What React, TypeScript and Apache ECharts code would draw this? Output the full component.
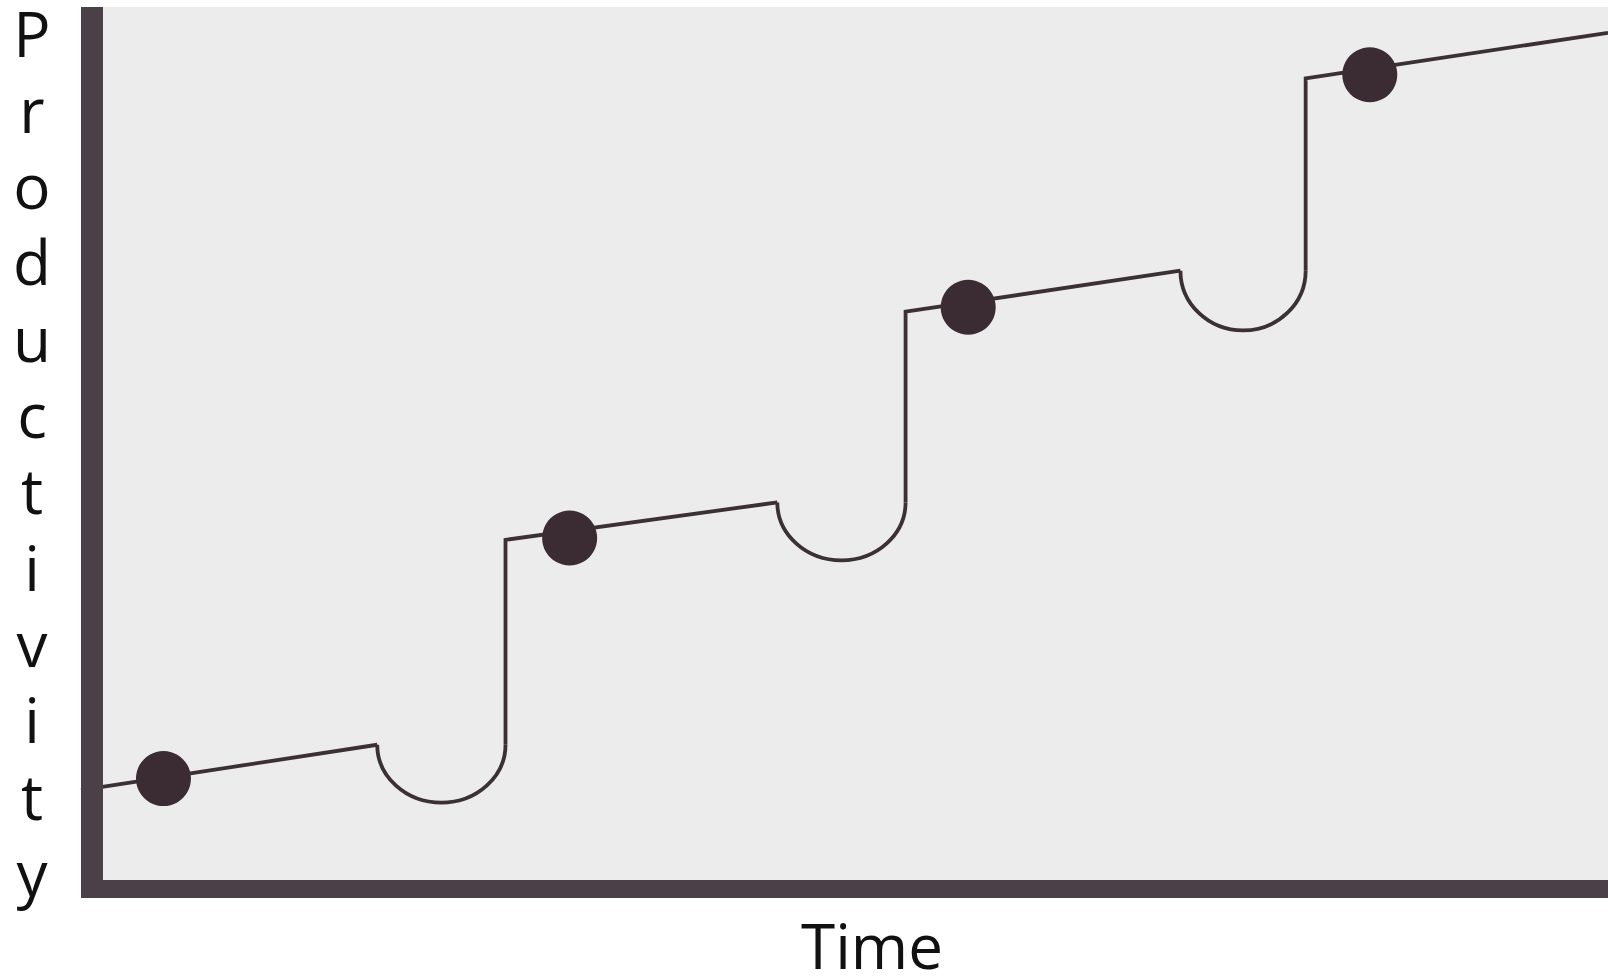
import React, { useEffect, useRef } from "react";
import * as echarts from "echarts";

// Axis titles
const yLabelLetters = ["P", "r", "o", "d", "u", "c", "t", "i", "v", "i", "t", "y"];
const xLabel = "Time";

// Rising segments of the curve: [time, productivity]
const segment1 = [[0, 12.1], [19.4, 17.2]];
const segment2 = [[27.8, 17.2], [27.8, 40.2], [45.6, 44.4]];
const segment3 = [[54.0, 44.4], [54.0, 65.8], [72.0, 70.4]];
const segment4 = [[80.2, 70.4], [80.2, 92.0], [100, 97.1]];

// Dips between segments: [startTime, endTime, level, lowest productivity]
const dips = [
  [19.4, 27.8, 17.2, 10.7],
  [45.6, 54.0, 44.4, 37.9],
  [72.0, 80.2, 70.4, 63.7],
];

// Milestone dots: [time, productivity]
const milestones = [[5.4, 13.4], [32.0, 40.4], [58.1, 66.3], [84.4, 92.4]];

const AXIS_COLOR = "#4b3f48";
const LINE_COLOR = "#3a3035";
const DOT_COLOR = "#3b2c33";

export default function App() {
  const ref = useRef<HTMLDivElement>(null);

  useEffect(() => {
    document.body.style.margin = "0";
    if (!ref.current) return;
    const chart = echarts.init(ref.current, undefined, { renderer: "svg" });

    const lineSeries = (data: number[][]) => ({
      type: "line",
      data,
      showSymbol: false,
      symbol: "none",
      silent: true,
      lineStyle: { color: LINE_COLOR, width: 3.8, join: "miter", cap: "butt" },
      z: 3,
    });

    const letterSpacing = 76.3;
    const yLetterTexts = yLabelLetters.map((ch, i) => ({
      type: "text",
      x: 32,
      y: 32.5 + i * letterSpacing,
      style: {
        text: ch,
        fontSize: 62,
        fontFamily: "Open Sans",
        fill: "#111111",
        align: "center",
        verticalAlign: "middle",
        lineHeight: 60,
      },
    }));

    chart.setOption({
      animation: false,
      backgroundColor: "#ffffff",
      grid: {
        left: 81,
        right: 0,
        top: 7,
        bottom: 78,
        show: true,
        backgroundColor: "#ececec",
        borderWidth: 0,
      },
      xAxis: {
        type: "value",
        min: 0,
        max: 100,
        offset: -9,
        z: 10,
        axisLine: {
          show: true,
          onZero: false,
          lineStyle: { color: AXIS_COLOR, width: 18, cap: "butt" },
        },
        axisTick: { show: false },
        axisLabel: { show: false },
        splitLine: { show: false },
      },
      yAxis: {
        type: "value",
        min: 0,
        max: 100,
        offset: -11,
        z: 10,
        axisLine: {
          show: true,
          onZero: false,
          lineStyle: { color: AXIS_COLOR, width: 22, cap: "butt" },
        },
        axisTick: { show: false },
        axisLabel: { show: false },
        splitLine: { show: false },
      },
      series: [
        lineSeries(segment1),
        lineSeries(segment2),
        lineSeries(segment3),
        lineSeries(segment4),
        {
          type: "custom",
          data: dips,
          encode: { x: [0, 1], y: [2, 3] },
          silent: true,
          z: 3,
          renderItem: (params: any, api: any) => {
            const p0 = api.coord([api.value(0), api.value(2)]);
            const p1 = api.coord([api.value(1), api.value(2)]);
            const pb = api.coord([api.value(0), api.value(3)]);
            const rx = (p1[0] - p0[0]) / 2;
            const ry = pb[1] - p0[1];
            return {
              type: "path",
              shape: {
                pathData: `M${p0[0]} ${p0[1]} A${rx} ${ry} 0 0 0 ${p1[0]} ${p1[1]}`,
              },
              style: { fill: "none", stroke: LINE_COLOR, lineWidth: 3.8 },
            };
          },
        },
        {
          type: "scatter",
          data: milestones,
          symbol: "circle",
          symbolSize: 55,
          silent: true,
          itemStyle: { color: DOT_COLOR, opacity: 1 },
          z: 4,
        },
      ],
      graphic: [
        ...yLetterTexts,
        {
          type: "text",
          x: 872,
          y: 944.5,
          style: {
            text: xLabel,
            fontSize: 62,
            fontFamily: "Open Sans",
            fill: "#111111",
            align: "center",
            verticalAlign: "middle",
            lineHeight: 60,
          },
        },
      ],
    });

    return () => chart.dispose();
  }, []);

  return <div ref={ref} style={{ width: 1608, height: 976 }} />;
}
